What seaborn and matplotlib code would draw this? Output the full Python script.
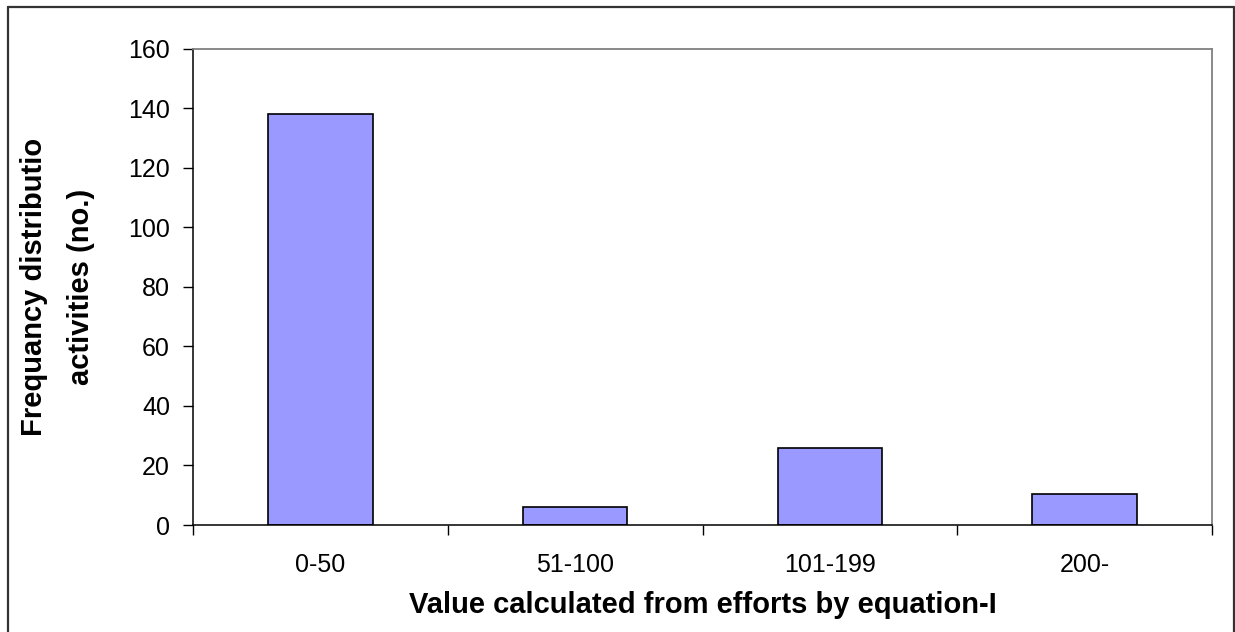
import matplotlib
matplotlib.use("Agg")
import matplotlib.pyplot as plt
import seaborn as sns
import pandas as pd
from matplotlib.lines import Line2D

# data
categories = ["0-50", "51-100", "101-199", "200-"]
frequency = [138, 6, 26, 10.5]
y_ticks = [0, 20, 40, 60, 80, 100, 120, 140, 160]

df = pd.DataFrame({"range": categories, "count": frequency})

sns.set_theme(style="white")
plt.rcParams["font.family"] = ["Liberation Sans", "DejaVu Sans"]

fig = plt.figure(figsize=(12.35, 6.32), dpi=100)
ax = fig.add_axes([0.1563, 0.1693, 0.8251, 0.7532])

sns.barplot(data=df, x="range", y="count", ax=ax, color="#9999FF",
            width=0.41, edgecolor="black", linewidth=1.2, saturation=1)

ax.set_ylim(0, 160)
ax.set_xlim(-0.5, len(categories) - 0.5)
ax.set_yticks(y_ticks)
ax.set_yticklabels([str(t) for t in y_ticks], fontsize=18, color="black")

# tick marks sit between categories, labels centred under bars
ax.set_xticks([i - 0.5 for i in range(len(categories) + 1)])
ax.set_xticklabels([])
ax.set_xticks(range(len(categories)), minor=True)
ax.set_xticklabels(categories, minor=True, fontsize=18, color="black")
ax.tick_params(axis="x", which="major", direction="out", length=7, width=1,
               color="black", bottom=True)
ax.tick_params(axis="x", which="minor", length=0, pad=20)
ax.tick_params(axis="y", direction="out", length=7, width=1, color="black",
               left=True, pad=9.5)

for side in ["left", "bottom"]:
    ax.spines[side].set_color("black")
    ax.spines[side].set_linewidth(1.1)
for side in ["top", "right"]:
    ax.spines[side].set_color("#808080")
    ax.spines[side].set_linewidth(1.3)
ax.grid(False)

ax.set_xlabel("Value calculated from efforts by equation-I", fontsize=21,
              fontweight="bold", color="black")
ax.xaxis.set_label_coords(0.5, -0.168)
ax.xaxis.label.set_va("center")

ax.set_ylabel("Frequancy distributio\nactivities (no.)", fontsize=21,
              fontweight="bold", color="black", linespacing=1.9)
ax.yaxis.set_label_coords(-0.133, 0.5)
ax.yaxis.label.set_va("center")

# outer chart border (left, top, right)
bx0, bx1, by1 = 7.5 / 1235, 1234 / 1235, 1 - 6.5 / 632
for xs, ys in [([bx0, bx0], [0, by1]), ([bx0, bx1], [by1, by1]), ([bx1, bx1], [by1, 0])]:
    fig.add_artist(Line2D(xs, ys, transform=fig.transFigure, color="#333333", lw=1.6))

fig.savefig("out.png", dpi=100)
